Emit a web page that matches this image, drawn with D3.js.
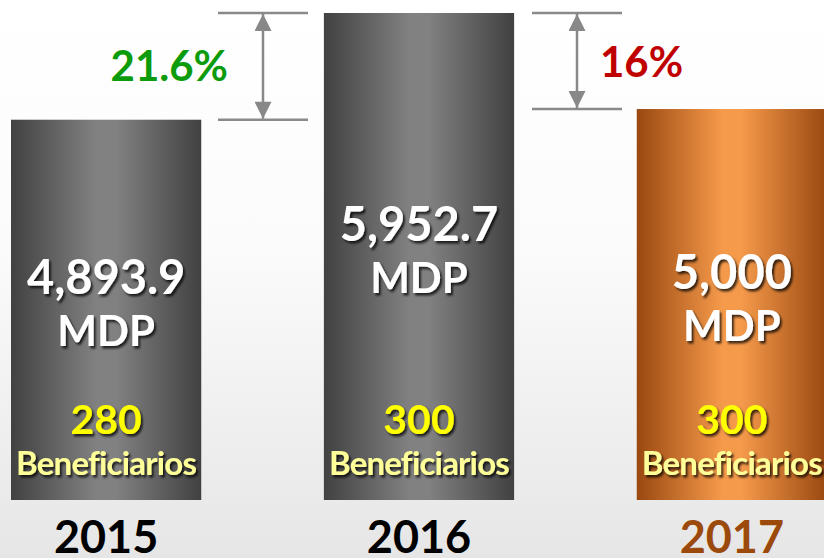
<!DOCTYPE html>
<html>
<head>
    <title>MDP y Beneficiarios 2015-2017</title>
    <script src="https://d3js.org/d3.v7.min.js"></script>
    <style>
        html, body {
            margin: 0;
            padding: 0;
            overflow: hidden;
        }
        body {
            font-family: Lato, "Open Sans", sans-serif;
            font-weight: bold;
        }
        text {
            font-weight: bold;
        }
    </style>
</head>
<body>
    <div id="chart"></div>

    <script>
        const years = ["2015", "2016", "2017"];
        const amounts = [4893.9, 5952.7, 5000];
        const amountLabels = ["4,893.9", "5,952.7", "5,000"];
        const beneficiaries = [280, 300, 300];
        const unitLabel = "MDP";
        const benefLabel = "Beneficiarios";

        const width = 824,
              height = 558,
              baseline = 500;

        const svg = d3.select("#chart")
                      .append("svg")
                      .attr("width", width)
                      .attr("height", height);

        const defs = svg.append("defs");

        // page background, white fading to light grey
        const bg = defs.append("linearGradient").attr("id", "bg")
                       .attr("x1", 0).attr("y1", 0).attr("x2", 0).attr("y2", 1);
        bg.append("stop").attr("offset", "0%").attr("stop-color", "#ffffff");
        bg.append("stop").attr("offset", "45%").attr("stop-color", "#fbfbfb");
        bg.append("stop").attr("offset", "100%").attr("stop-color", "#e6e6e6");

        // cylinder-like shading of the bars
        function barGradient(id, edge, mid) {
            const g = defs.append("linearGradient").attr("id", id)
                          .attr("x1", 0).attr("y1", 0).attr("x2", 1).attr("y2", 0);
            g.append("stop").attr("offset", "0%").attr("stop-color", edge);
            g.append("stop").attr("offset", "45%").attr("stop-color", mid);
            g.append("stop").attr("offset", "55%").attr("stop-color", mid);
            g.append("stop").attr("offset", "100%").attr("stop-color", edge);
        }
        barGradient("grayBar", "#414141", "#818181");
        barGradient("orangeBar", "#9a4810", "#f59a4b");

        const shadow = defs.append("filter").attr("id", "shadow")
                           .attr("x", "-10%").attr("y", "-20%")
                           .attr("width", "130%").attr("height", "150%");
        shadow.append("feDropShadow")
              .attr("dx", 2).attr("dy", 2.5)
              .attr("stdDeviation", 1.3)
              .attr("flood-color", "#000")
              .attr("flood-opacity", 0.75);

        const arrow = defs.append("marker").attr("id", "arrow")
                          .attr("viewBox", "0 0 10 10")
                          .attr("refX", 10).attr("refY", 5)
                          .attr("markerUnits", "userSpaceOnUse")
                          .attr("markerWidth", 23).attr("markerHeight", 17)
                          .attr("orient", "auto-start-reverse");
        arrow.append("path").attr("d", "M0,0 L10,5 L0,10 Z").attr("fill", "#888888");

        svg.append("rect")
           .attr("width", width)
           .attr("height", height)
           .attr("fill", "url(#bg)");

        const x = d3.scaleBand()
                    .domain(years)
                    .range([11, 827])
                    .paddingInner(0.392)
                    .paddingOuter(0);

        const y = d3.scaleLinear()
                    .domain([1121, 5952.7])
                    .range([baseline, 13]);

        const data = years.map((yr, i) => ({
            year: yr,
            amount: amounts[i],
            label: amountLabels[i],
            benef: beneficiaries[i],
            current: i === years.length - 1
        }));

        svg.selectAll(".bar")
           .data(data)
           .enter()
           .append("rect")
           .attr("class", "bar")
           .attr("x", d => x(d.year))
           .attr("y", d => y(d.amount))
           .attr("width", x.bandwidth())
           .attr("height", d => baseline - y(d.amount))
           .attr("fill", d => d.current ? "url(#orangeBar)" : "url(#grayBar)");

        const cx = d => x(d.year) + x.bandwidth() / 2;
        const mid = d => (y(d.amount) + baseline) / 2;

        const labels = svg.selectAll(".lbl")
                          .data(data)
                          .enter()
                          .append("g")
                          .attr("class", "lbl")
                          .attr("filter", "url(#shadow)")
                          .attr("text-anchor", "middle");

        labels.append("text")
              .attr("x", cx)
              .attr("y", d => mid(d) - 16)
              .attr("fill", "#ffffff")
              .attr("font-size", 47)
              .text(d => d.label);

        labels.append("text")
              .attr("x", cx)
              .attr("y", d => mid(d) + 36)
              .attr("fill", "#ffffff")
              .attr("font-size", 42)
              .text(unitLabel);

        labels.append("text")
              .attr("x", cx)
              .attr("y", baseline - 66)
              .attr("fill", "#ffff00")
              .attr("font-size", 41)
              .text(d => d.benef);

        labels.append("text")
              .attr("x", cx)
              .attr("y", baseline - 25)
              .attr("fill", "#ffff99")
              .attr("font-size", 33)
              .attr("letter-spacing", -0.8)
              .text(benefLabel);

        svg.selectAll(".year")
           .data(data)
           .enter()
           .append("text")
           .attr("class", "year")
           .attr("x", cx)
           .attr("y", 553)
           .attr("text-anchor", "middle")
           .attr("font-size", 45)
           .attr("fill", d => d.current ? "#9c4a0c" : "#000000")
           .text(d => d.year);

        // change markers between the bars
        const changes = [
            { from: data[0], to: data[1], x: 263, x0: 218, x1: 308, color: "#0b9b0b", side: "left" },
            { from: data[2], to: data[1], x: 577, x0: 532, x1: 622, color: "#c00000", side: "right" }
        ];

        changes.forEach(c => {
            const yTop = y(c.to.amount),
                  yBot = y(c.from.amount);
            const pct = c.from === data[0]
                ? (c.to.amount - c.from.amount) / c.from.amount * 100
                : (c.to.amount - c.from.amount) / c.to.amount * 100;
            const g = svg.append("g");
            [yTop, yBot].forEach(yy => {
                g.append("line")
                 .attr("x1", c.x0).attr("x2", c.x1)
                 .attr("y1", yy).attr("y2", yy)
                 .attr("stroke", "#8a8a8a")
                 .attr("stroke-width", 2.5);
            });
            g.append("line")
             .attr("x1", c.x).attr("x2", c.x)
             .attr("y1", yTop + 1).attr("y2", yBot - 1)
             .attr("stroke", "#888888")
             .attr("stroke-width", 2.5)
             .attr("marker-start", "url(#arrow)")
             .attr("marker-end", "url(#arrow)");

            const txt = d3.format(".1f")(pct).replace(/\.0$/, "") + "%";
            g.append("text")
             .attr("x", c.side === "left" ? c.x - 35 : c.x + 23)
             .attr("y", (yTop + yBot) / 2 + (c.side === "left" ? 15 : 16))
             .attr("text-anchor", c.side === "left" ? "end" : "start")
             .attr("font-size", 42)
             .attr("fill", c.color)
             .text(txt);
        });
    </script>
</body>
</html>
